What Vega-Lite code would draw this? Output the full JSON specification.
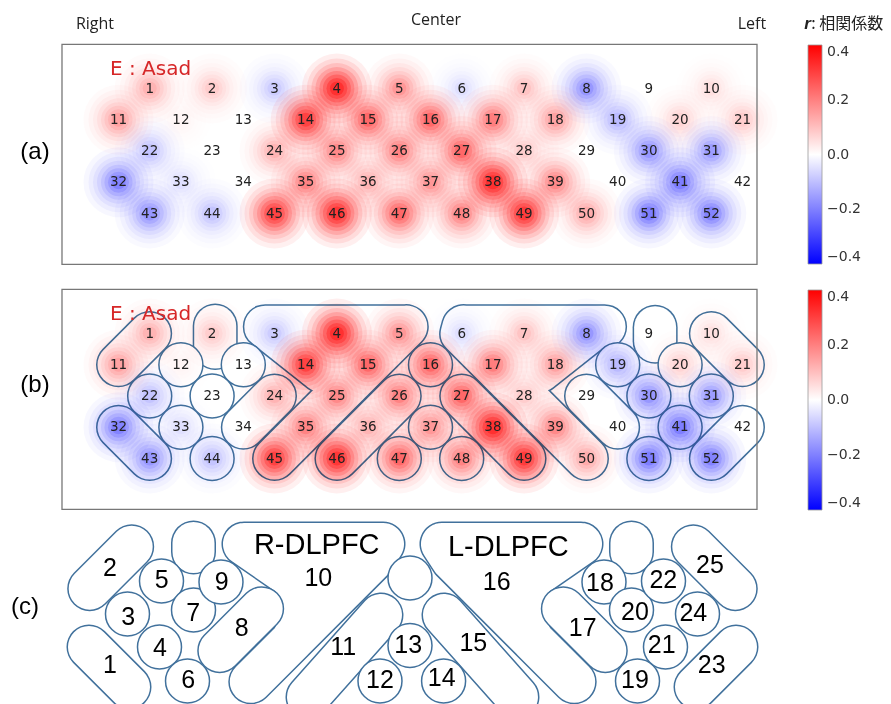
{
"$schema": "https://vega.github.io/schema/vega-lite/v6.json",
"padding": 0,
"spacing": 0,
"bounds": "flush",
"background": "white",
"config": {"view": {"stroke": null}},
"resolve": {"scale": {"x": "independent", "y": "independent", "color": "independent"}, "legend": {"color": "independent"}},
"datasets": {
"ch": [
{"ch":1,"x":1,"y":1,"r":0.08},{"ch":2,"x":3,"y":1,"r":0.05},{"ch":3,"x":5,"y":1,"r":-0.05},{"ch":4,"x":7,"y":1,"r":0.35},{"ch":5,"x":9,"y":1,"r":0.12},{"ch":6,"x":11,"y":1,"r":-0.03},{"ch":7,"x":13,"y":1,"r":0.06},{"ch":8,"x":15,"y":1,"r":-0.12},{"ch":9,"x":17,"y":1,"r":0.0},{"ch":10,"x":19,"y":1,"r":0.03},
{"ch":11,"x":0,"y":2,"r":0.1},{"ch":12,"x":2,"y":2,"r":0.01},{"ch":13,"x":4,"y":2,"r":0.0},{"ch":14,"x":6,"y":2,"r":0.29},{"ch":15,"x":8,"y":2,"r":0.2},{"ch":16,"x":10,"y":2,"r":0.2},{"ch":17,"x":12,"y":2,"r":0.16},{"ch":18,"x":14,"y":2,"r":0.1},{"ch":19,"x":16,"y":2,"r":-0.07},{"ch":20,"x":18,"y":2,"r":0.04},{"ch":21,"x":20,"y":2,"r":0.05},
{"ch":22,"x":1,"y":3,"r":-0.06},{"ch":23,"x":3,"y":3,"r":0.0},{"ch":24,"x":5,"y":3,"r":0.08},{"ch":25,"x":7,"y":3,"r":0.14},{"ch":26,"x":9,"y":3,"r":0.15},{"ch":27,"x":11,"y":3,"r":0.2},{"ch":28,"x":13,"y":3,"r":0.05},{"ch":29,"x":15,"y":3,"r":0.0},{"ch":30,"x":17,"y":3,"r":-0.12},{"ch":31,"x":19,"y":3,"r":-0.11},
{"ch":32,"x":0,"y":4,"r":-0.15},{"ch":33,"x":2,"y":4,"r":-0.03},{"ch":34,"x":4,"y":4,"r":0.0},{"ch":35,"x":6,"y":4,"r":0.15},{"ch":36,"x":8,"y":4,"r":0.08},{"ch":37,"x":10,"y":4,"r":0.12},{"ch":38,"x":12,"y":4,"r":0.35},{"ch":39,"x":14,"y":4,"r":0.14},{"ch":40,"x":16,"y":4,"r":0.0},{"ch":41,"x":18,"y":4,"r":-0.16},{"ch":42,"x":20,"y":4,"r":0.0},
{"ch":43,"x":1,"y":5,"r":-0.12},{"ch":44,"x":3,"y":5,"r":-0.06},{"ch":45,"x":5,"y":5,"r":0.29},{"ch":46,"x":7,"y":5,"r":0.33},{"ch":47,"x":9,"y":5,"r":0.2},{"ch":48,"x":11,"y":5,"r":0.15},{"ch":49,"x":13,"y":5,"r":0.31},{"ch":50,"x":15,"y":5,"r":0.09},{"ch":51,"x":17,"y":5,"r":-0.16},{"ch":52,"x":19,"y":5,"r":-0.15}
],
"blines": [
{"id":"bR","g":"d","o":1,"x":5,"y":5},{"id":"bR","g":"d","o":2,"x":9,"y":1},{"id":"bR","g":"d","o":3,"x":9.224,"y":0.78},{"id":"bR","g":"d","o":4,"x":4.705,"y":0.78},{"id":"bR","g":"d","o":5,"x":6.5,"y":2.2},{"id":"bR","g":"d","o":6,"x":9.224,"y":0.78},{"id":"bR","g":"d","o":7,"x":8,"y":2},
{"id":"bL","g":"d","o":1,"x":15,"y":5},{"id":"bL","g":"d","o":2,"x":11,"y":1},{"id":"bL","g":"d","o":3,"x":11.06,"y":0.78},{"id":"bL","g":"d","o":4,"x":15.58,"y":0.78},{"id":"bL","g":"d","o":5,"x":15.3,"y":0.78},{"id":"bL","g":"d","o":6,"x":13.5,"y":2.2},{"id":"bL","g":"d","o":7,"x":11.06,"y":0.78},{"id":"bL","g":"d","o":8,"x":12,"y":2},
{"id":"b2","g":"c","o":1,"x":1,"y":1},{"id":"b2","g":"c","o":2,"x":0,"y":2},
{"id":"b1","g":"c","o":1,"x":0,"y":4},{"id":"b1","g":"c","o":2,"x":1,"y":5},
{"id":"b7","g":"c","o":1,"x":3.1,"y":0.76},{"id":"b7","g":"c","o":2,"x":3.1,"y":1.45},
{"id":"b8","g":"c","o":1,"x":5,"y":3},{"id":"b8","g":"c","o":2,"x":4,"y":4},
{"id":"b11","g":"c","o":1,"x":9,"y":3},{"id":"b11","g":"c","o":2,"x":7,"y":5},
{"id":"b15","g":"c","o":1,"x":11,"y":3},{"id":"b15","g":"c","o":2,"x":13,"y":5},
{"id":"b17","g":"c","o":1,"x":15,"y":3},{"id":"b17","g":"c","o":2,"x":16,"y":4},
{"id":"b20","g":"c","o":1,"x":17.2,"y":0.8},{"id":"b20","g":"c","o":2,"x":17.2,"y":1.25},
{"id":"b23","g":"c","o":1,"x":20,"y":4},{"id":"b23","g":"c","o":2,"x":19,"y":5},
{"id":"b25","g":"c","o":1,"x":19,"y":1},{"id":"b25","g":"c","o":2,"x":20,"y":2}
],
"clines": [
{"id":"cR","g":"d","o":1,"x":4.022,"y":-0.104},{"id":"cR","g":"d","o":2,"x":5.587,"y":0.971},{"id":"cR","g":"d","o":3,"x":6.0,"y":1.966},{"id":"cR","g":"d","o":4,"x":5.587,"y":2.962},{"id":"cR","g":"d","o":5,"x":4.24,"y":4.306},{"id":"cR","g":"d","o":6,"x":8.144,"y":0.408},{"id":"cR","g":"d","o":7,"x":8.478,"y":-0.104},{"id":"cR","g":"d","o":8,"x":6.0,"y":1.966},{"id":"cR","g":"d","o":9,"x":8.478,"y":-0.104},{"id":"cR","g":"d","o":10,"x":5.587,"y":0.971},{"id":"cR","g":"d","o":11,"x":8.478,"y":-0.104},{"id":"cR","g":"d","o":12,"x":4.022,"y":-0.104},
{"id":"cL","g":"d","o":1,"x":14.824,"y":-0.104},{"id":"cL","g":"d","o":2,"x":13.259,"y":0.971},{"id":"cL","g":"d","o":3,"x":12.846,"y":1.966},{"id":"cL","g":"d","o":4,"x":13.259,"y":2.962},{"id":"cL","g":"d","o":5,"x":14.606,"y":4.306},{"id":"cL","g":"d","o":6,"x":10.702,"y":0.408},{"id":"cL","g":"d","o":7,"x":10.368,"y":-0.104},{"id":"cL","g":"d","o":8,"x":12.846,"y":1.966},{"id":"cL","g":"d","o":9,"x":10.368,"y":-0.104},{"id":"cL","g":"d","o":10,"x":13.259,"y":0.971},{"id":"cL","g":"d","o":11,"x":10.368,"y":-0.104},{"id":"cL","g":"d","o":12,"x":14.824,"y":-0.104},
{"id":"c1","g":"c","o":1,"x":-0.946,"y":3.192},{"id":"c1","g":"c","o":2,"x":0.337,"y":4.472},
{"id":"c2","g":"c","o":1,"x":0.423,"y":-0.018},{"id":"c2","g":"c","o":2,"x":-0.923,"y":1.326},
{"id":"c7","g":"c","o":1,"x":2.404,"y":-0.136},{"id":"c7","g":"c","o":2,"x":2.404,"y":0.152},
{"id":"c8","g":"c","o":1,"x":4.59,"y":1.966},{"id":"c8","g":"c","o":2,"x":3.244,"y":3.31},
{"id":"c11","g":"c","o":1,"x":8.413,"y":2.168},{"id":"c11","g":"c","o":2,"x":6.074,"y":4.792},
{"id":"c15","g":"c","o":1,"x":10.433,"y":2.168},{"id":"c15","g":"c","o":2,"x":12.772,"y":4.792},
{"id":"c17","g":"c","o":1,"x":14.256,"y":1.966},{"id":"c17","g":"c","o":2,"x":15.603,"y":3.31},
{"id":"c20","g":"c","o":1,"x":16.442,"y":-0.136},{"id":"c20","g":"c","o":2,"x":16.442,"y":0.152},
{"id":"c25","g":"c","o":1,"x":18.423,"y":-0.018},{"id":"c25","g":"c","o":2,"x":19.769,"y":1.326},
{"id":"c23","g":"c","o":1,"x":19.792,"y":3.192},{"id":"c23","g":"c","o":2,"x":18.51,"y":4.472}
],
"ccircles": [
{"x":0.288,"y":2.136},{"x":1.314,"y":3.192},{"x":1.378,"y":1.08},{"x":2.212,"y":4.28},{"x":2.404,"y":2.008},{"x":3.285,"y":1.112},{"x":8.381,"y":4.28},{"x":9.343,"y":3.144},{"x":9.343,"y":0.984},{"x":10.42,"y":4.28},{"x":15.561,"y":1.112},{"x":16.635,"y":4.28},{"x":16.442,"y":2.008},{"x":17.532,"y":3.192},{"x":17.468,"y":1.08},{"x":18.558,"y":2.136}
],
"clabels": [
{"x":-0.272,"y":3.768,"t":"1"},{"x":-0.272,"y":0.674,"t":"2"},{"x":0.314,"y":2.222,"t":"3"},{"x":1.33,"y":3.234,"t":"4"},{"x":1.385,"y":1.048,"t":"5"},{"x":2.237,"y":4.248,"t":"6"},{"x":2.397,"y":2.114,"t":"7"},{"x":3.949,"y":2.594,"t":"8"},{"x":3.308,"y":1.102,"t":"9"},{"x":6.404,"y":0.994,"t":"10"},{"x":7.205,"y":3.182,"t":"11"},{"x":8.381,"y":4.248,"t":"12"},{"x":9.288,"y":3.128,"t":"13"},{"x":10.359,"y":4.194,"t":"14"},{"x":11.372,"y":3.074,"t":"15"},{"x":12.122,"y":1.102,"t":"16"},{"x":14.878,"y":2.594,"t":"17"},{"x":15.433,"y":1.154,"t":"18"},{"x":16.554,"y":4.248,"t":"19"},{"x":16.554,"y":2.062,"t":"20"},{"x":17.41,"y":3.128,"t":"21"},{"x":17.462,"y":1.048,"t":"22"},{"x":19.013,"y":3.768,"t":"23"},{"x":18.423,"y":2.114,"t":"24"},{"x":18.958,"y":0.568,"t":"25"}
]
},
"vconcat": [
{
"width": 891, "height": 245,
"encoding": {
"x": {"field": "x", "type": "quantitative", "scale": {"domain": [-3.798, 24.76], "nice": false, "zero": false}, "axis": null},
"y": {"field": "y", "type": "quantitative", "scale": {"domain": [-1.832, 6.008], "nice": false, "zero": false, "reverse": true}, "axis": null}
},
"layer": [
{"data": {"name": "ch"}, "mark": {"type": "point", "shape": "circle", "filled": true, "size": 4900, "fillOpacity": 0.08, "strokeWidth": 0, "blend": "multiply"},
 "encoding": {"color": {"field": "r", "type": "quantitative", "scale": {"domain": [-0.4, 0, 0.4], "range": ["#0000ff", "#ffffff", "#ff0000"], "interpolate": "rgb"},
  "legend": {"title": null, "orient": "none", "legendX": 808, "legendY": 45, "direction": "vertical", "gradientLength": 219, "gradientThickness": 14, "values": [-0.4, -0.2, 0, 0.2, 0.4], "format": ".1f", "labelFont": "DejaVu Sans", "labelFontSize": 14, "labelColor": "#333333", "labelOffset": 5, "labelBaseline": "middle", "labelOverlap": false, "gradientStrokeColor": "#999999", "gradientStrokeWidth": 0.8, "padding": 0}}}},
{"data": {"name": "ch"}, "mark": {"type": "point", "shape": "circle", "filled": true, "size": 3600, "fillOpacity": 0.1, "strokeWidth": 0, "blend": "multiply"}, "encoding": {"color": {"field": "r", "type": "quantitative"}}},
{"data": {"name": "ch"}, "mark": {"type": "point", "shape": "circle", "filled": true, "size": 2601, "fillOpacity": 0.13, "strokeWidth": 0, "blend": "multiply"}, "encoding": {"color": {"field": "r", "type": "quantitative"}}},
{"data": {"name": "ch"}, "mark": {"type": "point", "shape": "circle", "filled": true, "size": 1849, "fillOpacity": 0.17, "strokeWidth": 0, "blend": "multiply"}, "encoding": {"color": {"field": "r", "type": "quantitative"}}},
{"data": {"name": "ch"}, "mark": {"type": "point", "shape": "circle", "filled": true, "size": 1225, "fillOpacity": 0.21, "strokeWidth": 0, "blend": "multiply"}, "encoding": {"color": {"field": "r", "type": "quantitative"}}},
{"data": {"name": "ch"}, "mark": {"type": "point", "shape": "circle", "filled": true, "size": 784, "fillOpacity": 0.26, "strokeWidth": 0, "blend": "multiply"}, "encoding": {"color": {"field": "r", "type": "quantitative"}}},
{"data": {"name": "ch"}, "mark": {"type": "point", "shape": "circle", "filled": true, "size": 441, "fillOpacity": 0.32, "strokeWidth": 0, "blend": "multiply"}, "encoding": {"color": {"field": "r", "type": "quantitative"}}},
{"data": {"name": "ch"}, "mark": {"type": "point", "shape": "circle", "filled": true, "size": 196, "fillOpacity": 0.4, "strokeWidth": 0, "blend": "multiply"}, "encoding": {"color": {"field": "r", "type": "quantitative"}}},
{"data": {"values": [{"x": -1.811, "x2": 20.465, "y": -0.41, "y2": 6.63}]}, "mark": {"type": "rect", "fillOpacity": 0, "stroke": "#777777", "strokeWidth": 1.3}, "encoding": {"x2": {"field": "x2"}, "y2": {"field": "y2"}}},
{"data": {"name": "ch"}, "mark": {"type": "text", "font": "DejaVu Sans", "fontSize": 13.5, "color": "#222222", "align": "center", "baseline": "middle"}, "encoding": {"text": {"field": "ch", "type": "quantitative", "format": "d"}}},
{"data": {"values": [{"x": -0.272, "y": 0.376, "t": "E : Asad"}]}, "mark": {"type": "text", "font": "DejaVu Sans", "fontSize": 20, "color": "#d62728", "align": "left", "baseline": "middle"}, "encoding": {"text": {"field": "t"}}},
{"data": {"values": [{"x": -0.753, "y": -1.064, "t": "Right"}, {"x": 10.176, "y": -1.192, "t": "Center"}, {"x": 20.304, "y": -1.064, "t": "Left"}]}, "mark": {"type": "text", "font": "Open Sans", "fontSize": 16, "color": "#222222", "align": "center", "baseline": "middle"}, "encoding": {"text": {"field": "t"}}},
{"data": {"values": [{"x": -2.676, "y": 3.032, "t": "(a)"}]}, "mark": {"type": "text", "font": "Liberation Sans", "fontSize": 24, "color": "#000000", "align": "center", "baseline": "middle"}, "encoding": {"text": {"field": "t"}}},
{"data": {"values": [{"x": 22.195, "y": -1.064, "t": "r"}]}, "mark": {"type": "text", "font": "Liberation Sans", "fontSize": 17, "fontStyle": "italic", "fontWeight": "bold", "color": "#222222", "align": "right", "baseline": "middle"}, "encoding": {"text": {"field": "t"}}},
{"data": {"values": [{"x": 22.2, "y": -1.064, "t": ": 相関係数"}]}, "mark": {"type": "text", "font": "Noto Sans CJK JP", "fontSize": 16, "color": "#222222", "align": "left", "baseline": "middle"}, "encoding": {"text": {"field": "t"}}}
]
},
{
"width": 891, "height": 245,
"encoding": {
"x": {"field": "x", "type": "quantitative", "scale": {"domain": [-3.798, 24.76], "nice": false, "zero": false}, "axis": null},
"y": {"field": "y", "type": "quantitative", "scale": {"domain": [-1.832, 6.008], "nice": false, "zero": false, "reverse": true}, "axis": null}
},
"layer": [
{"data": {"name": "blines"}, "transform": [{"filter": {"field": "g", "equal": "d"}}], "mark": {"type": "line", "color": "#41719c", "strokeWidth": 45, "strokeCap": "round", "strokeJoin": "round"}, "encoding": {"detail": {"field": "id"}, "order": {"field": "o", "type": "quantitative"}}},
{"data": {"name": "blines"}, "transform": [{"filter": {"field": "g", "equal": "d"}}], "mark": {"type": "line", "color": "#ffffff", "strokeWidth": 42, "strokeCap": "round", "strokeJoin": "round"}, "encoding": {"detail": {"field": "id"}, "order": {"field": "o", "type": "quantitative"}}},
{"data": {"name": "blines"}, "transform": [{"filter": {"field": "g", "equal": "c"}}], "mark": {"type": "line", "color": "#41719c", "strokeWidth": 45, "strokeCap": "round", "strokeJoin": "round"}, "encoding": {"detail": {"field": "id"}, "order": {"field": "o", "type": "quantitative"}}},
{"data": {"name": "blines"}, "transform": [{"filter": {"field": "g", "equal": "c"}}], "mark": {"type": "line", "color": "#ffffff", "strokeWidth": 42, "strokeCap": "round", "strokeJoin": "round"}, "encoding": {"detail": {"field": "id"}, "order": {"field": "o", "type": "quantitative"}}},
{"data": {"name": "ch"}, "transform": [{"filter": {"field": "ch", "oneOf": [12, 13, 16, 19, 20, 22, 23, 30, 31, 33, 37, 41, 44, 47, 48, 51]}}], "mark": {"type": "point", "shape": "circle", "filled": true, "fill": "#ffffff", "stroke": "#41719c", "strokeWidth": 1.5, "size": 1936, "opacity": 1}},
{"data": {"name": "ch"}, "mark": {"type": "point", "shape": "circle", "filled": true, "size": 4900, "fillOpacity": 0.08, "strokeWidth": 0, "blend": "multiply"},
 "encoding": {"color": {"field": "r", "type": "quantitative", "scale": {"domain": [-0.4, 0, 0.4], "range": ["#0000ff", "#ffffff", "#ff0000"], "interpolate": "rgb"},
  "legend": {"title": null, "orient": "none", "legendX": 808, "legendY": 45, "direction": "vertical", "gradientLength": 220, "gradientThickness": 14, "values": [-0.4, -0.2, 0, 0.2, 0.4], "format": ".1f", "labelFont": "DejaVu Sans", "labelFontSize": 14, "labelColor": "#333333", "labelOffset": 5, "labelBaseline": "middle", "labelOverlap": false, "gradientStrokeColor": "#999999", "gradientStrokeWidth": 0.8, "padding": 0}}}},
{"data": {"name": "ch"}, "mark": {"type": "point", "shape": "circle", "filled": true, "size": 3600, "fillOpacity": 0.1, "strokeWidth": 0, "blend": "multiply"}, "encoding": {"color": {"field": "r", "type": "quantitative"}}},
{"data": {"name": "ch"}, "mark": {"type": "point", "shape": "circle", "filled": true, "size": 2601, "fillOpacity": 0.13, "strokeWidth": 0, "blend": "multiply"}, "encoding": {"color": {"field": "r", "type": "quantitative"}}},
{"data": {"name": "ch"}, "mark": {"type": "point", "shape": "circle", "filled": true, "size": 1849, "fillOpacity": 0.17, "strokeWidth": 0, "blend": "multiply"}, "encoding": {"color": {"field": "r", "type": "quantitative"}}},
{"data": {"name": "ch"}, "mark": {"type": "point", "shape": "circle", "filled": true, "size": 1225, "fillOpacity": 0.21, "strokeWidth": 0, "blend": "multiply"}, "encoding": {"color": {"field": "r", "type": "quantitative"}}},
{"data": {"name": "ch"}, "mark": {"type": "point", "shape": "circle", "filled": true, "size": 784, "fillOpacity": 0.26, "strokeWidth": 0, "blend": "multiply"}, "encoding": {"color": {"field": "r", "type": "quantitative"}}},
{"data": {"name": "ch"}, "mark": {"type": "point", "shape": "circle", "filled": true, "size": 441, "fillOpacity": 0.32, "strokeWidth": 0, "blend": "multiply"}, "encoding": {"color": {"field": "r", "type": "quantitative"}}},
{"data": {"name": "ch"}, "mark": {"type": "point", "shape": "circle", "filled": true, "size": 196, "fillOpacity": 0.4, "strokeWidth": 0, "blend": "multiply"}, "encoding": {"color": {"field": "r", "type": "quantitative"}}},
{"data": {"values": [{"x": -1.811, "x2": 20.465, "y": -0.41, "y2": 6.63}]}, "mark": {"type": "rect", "fillOpacity": 0, "stroke": "#777777", "strokeWidth": 1.3}, "encoding": {"x2": {"field": "x2"}, "y2": {"field": "y2"}}},
{"data": {"name": "ch"}, "mark": {"type": "text", "font": "DejaVu Sans", "fontSize": 13.5, "color": "#222222", "align": "center", "baseline": "middle"}, "encoding": {"text": {"field": "ch", "type": "quantitative", "format": "d"}}},
{"data": {"values": [{"x": -0.272, "y": 0.376, "t": "E : Asad"}]}, "mark": {"type": "text", "font": "DejaVu Sans", "fontSize": 20, "color": "#d62728", "align": "left", "baseline": "middle"}, "encoding": {"text": {"field": "t"}}},
{"data": {"values": [{"x": -2.676, "y": 2.648, "t": "(b)"}]}, "mark": {"type": "text", "font": "Liberation Sans", "fontSize": 24, "color": "#000000", "align": "center", "baseline": "middle"}, "encoding": {"text": {"field": "t"}}}
]
},
{
"width": 891, "height": 214,
"encoding": {
"x": {"field": "x", "type": "quantitative", "scale": {"domain": [-3.798, 24.76], "nice": false, "zero": false}, "axis": null},
"y": {"field": "y", "type": "quantitative", "scale": {"domain": [-1.832, 5.016], "nice": false, "zero": false, "reverse": true}, "axis": null}
},
"layer": [
{"data": {"name": "clines"}, "transform": [{"filter": {"field": "g", "equal": "d"}}], "mark": {"type": "line", "color": "#41719c", "strokeWidth": 45, "strokeCap": "round", "strokeJoin": "round", "clip": true}, "encoding": {"detail": {"field": "id"}, "order": {"field": "o", "type": "quantitative"}}},
{"data": {"name": "clines"}, "transform": [{"filter": {"field": "g", "equal": "d"}}], "mark": {"type": "line", "color": "#ffffff", "strokeWidth": 42, "strokeCap": "round", "strokeJoin": "round", "clip": true}, "encoding": {"detail": {"field": "id"}, "order": {"field": "o", "type": "quantitative"}}},
{"data": {"name": "clines"}, "transform": [{"filter": {"field": "g", "equal": "c"}}], "mark": {"type": "line", "color": "#41719c", "strokeWidth": 45, "strokeCap": "round", "strokeJoin": "round", "clip": true}, "encoding": {"detail": {"field": "id"}, "order": {"field": "o", "type": "quantitative"}}},
{"data": {"name": "clines"}, "transform": [{"filter": {"field": "g", "equal": "c"}}], "mark": {"type": "line", "color": "#ffffff", "strokeWidth": 42, "strokeCap": "round", "strokeJoin": "round", "clip": true}, "encoding": {"detail": {"field": "id"}, "order": {"field": "o", "type": "quantitative"}}},
{"data": {"name": "ccircles"}, "mark": {"type": "point", "shape": "circle", "filled": true, "fill": "#ffffff", "stroke": "#41719c", "strokeWidth": 1.5, "size": 1936, "opacity": 1, "clip": true}},
{"data": {"name": "clabels"}, "mark": {"type": "text", "font": "Liberation Sans", "fontSize": 25, "color": "#000000", "align": "center", "baseline": "middle"}, "encoding": {"text": {"field": "t"}}},
{"data": {"values": [{"x": 6.353, "y": -0.072, "t": "R-DLPFC"}, {"x": 12.494, "y": -0.018, "t": "L-DLPFC"}]}, "mark": {"type": "text", "font": "Liberation Sans", "fontSize": 29, "color": "#000000", "align": "center", "baseline": "middle"}, "encoding": {"text": {"field": "t"}}},
{"data": {"values": [{"x": -2.997, "y": 1.912, "t": "(c)"}]}, "mark": {"type": "text", "font": "Liberation Sans", "fontSize": 24, "color": "#000000", "align": "center", "baseline": "middle"}, "encoding": {"text": {"field": "t"}}}
]
}
]
}
